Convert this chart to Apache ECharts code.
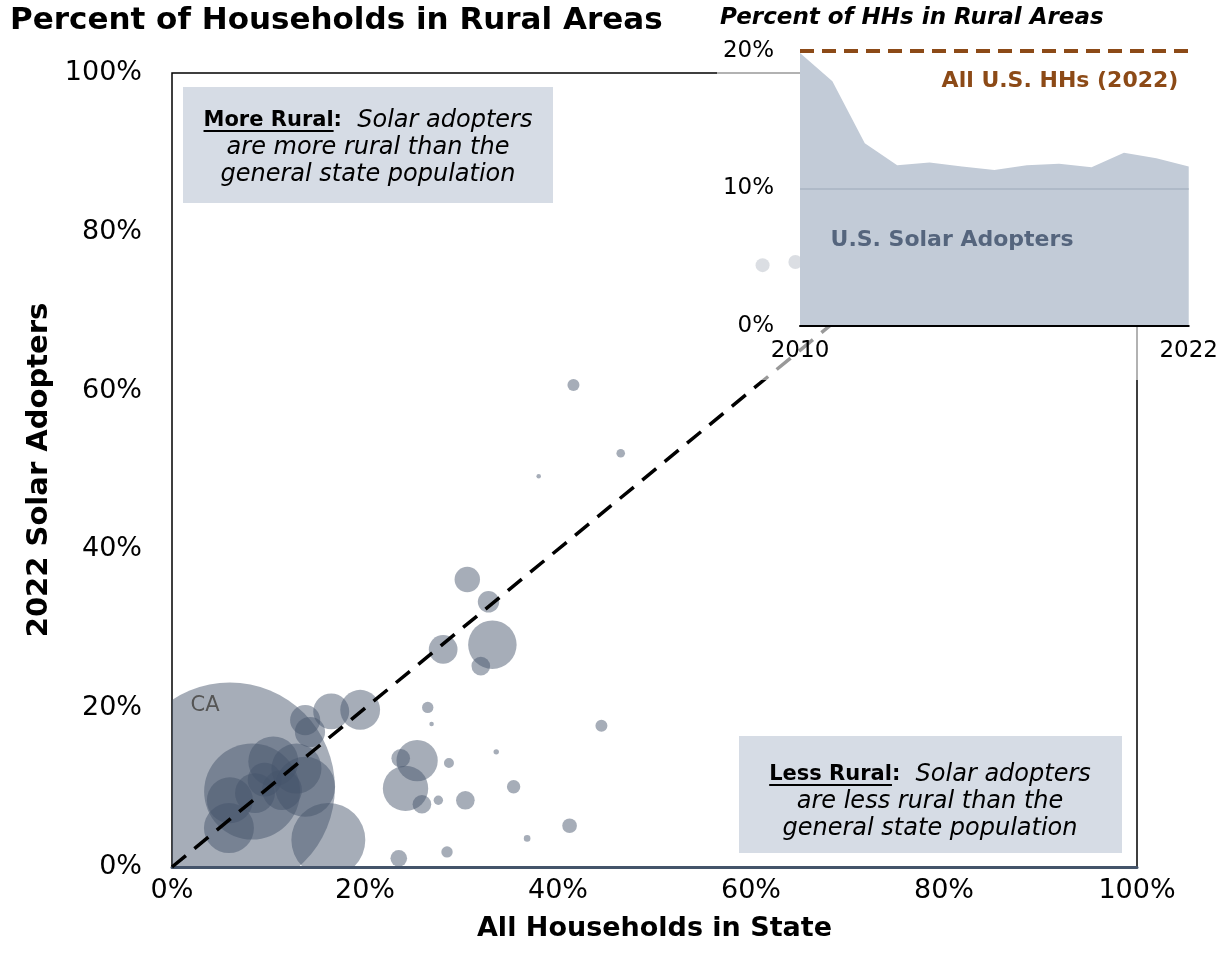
<!DOCTYPE html>
<html>
<head>
<meta charset="utf-8">
<title>Percent of Households in Rural Areas</title>
<script src="https://cdn.jsdelivr.net/npm/echarts@6/dist/echarts.min.js"></script>
<style>
  html, body { margin: 0; padding: 0; background: #fff; }
  #chart { width: 1221px; height: 968px; }
</style>
</head>
<body>
<div id="chart"></div>
<script>
// one bubble per state: % rural among all households (x), among 2022 solar adopters (y)
// solarHH = solar adopter households (thousands), drives bubble area
var ruralAll   = [6.0, 5.9, 6.0, 8.3, 8.6, 9.6, 10.5, 11.4, 12.9, 13.8, 16.2, 13.8, 14.3, 16.5, 19.5,
                  30.6, 32.8, 28.1, 33.2, 32.0, 26.5, 26.9, 44.5, 25.4, 23.7, 28.7, 33.6, 24.2, 25.9,
                  27.6, 30.4, 35.4, 41.2, 36.8, 28.5, 23.5, 41.6, 46.5, 38.0, 61.2, 64.6];
var ruralSolar = [10.0, 4.9, 8.4, 9.5, 9.3, 11.0, 13.3, 9.7, 12.4, 10.1, 3.4, 18.5, 17.0, 19.6, 19.8,
                  36.2, 33.4, 27.4, 28.0, 25.3, 20.1, 18.0, 17.8, 13.4, 13.7, 13.1, 14.5, 9.9, 7.9,
                  8.4, 8.4, 10.1, 5.2, 3.6, 1.9, 1.1, 60.7, 52.1, 49.2, 75.8, 76.2];
var solarHH    = [1500, 85, 72, 313, 54, 39, 85, 54, 85, 122, 186, 31, 31, 44, 54,
                  22, 15.6, 28, 80, 11.8, 4.4, 0.7, 4.9, 58, 11.8, 3.4, 1.0, 70, 11.8,
                  3.0, 11.8, 6.1, 7.3, 1.5, 4.4, 9.4, 4.9, 2.5, 0.7, 6.7, 6.7];
var labelledState = 'CA';   // first entry

// inset: % of U.S. solar adopters in rural areas by install year
var insetYears = ['2010', '2011', '2012', '2013', '2014', '2015', '2016', '2017', '2018', '2019', '2020', '2021', '2022'];
var insetRural = [19.85, 17.8, 13.3, 11.7, 11.9, 11.6, 11.35, 11.7, 11.8, 11.55, 12.6, 12.2, 11.6];
var allUsRural = 20;   // all U.S. households, 2022

var FONT = '"DejaVu Sans"';
var slate = '#44546a';
var brown = '#8c4a17';

var chart = echarts.init(document.getElementById('chart'));

var bubbleData = ruralAll.map(function (x, i) { return [x, ruralSolar[i], solarHH[i]]; });
var maxHH = Math.max.apply(null, solarHH);
var maxRadius = 105;

// measure text so the underlines sit under the bold words
var ctx = document.createElement('canvas').getContext('2d');
function textWidth(str, font) { ctx.font = font; return ctx.measureText(str).width; }

var boldFont = 'bold 21px "DejaVu Sans"';
var italFont = 'italic 24px "DejaVu Sans"';

function noteBox(cx, cy, rect, head, first, rest) {
  var wHead = textWidth(head, boldFont);
  var wColon = textWidth(':', boldFont);
  var wFirst = textWidth('  ' + first, italFont);
  var startX = cx - (wHead + wColon + wFirst) / 2;
  var lineY = cy - 27 + 10;
  return [
    { type: 'rect', z: 5, silent: true, shape: rect, style: { fill: '#d6dce5' } },
    { type: 'text', z: 6, silent: true, x: cx, y: cy,
      style: {
        text: '{b|' + head + '}{b|:}{i|  ' + first + '}\n{i|' + rest[0] + '}\n{i|' + rest[1] + '}',
        align: 'center', verticalAlign: 'middle', textAlign: 'center', textVerticalAlign: 'middle',
        rich: {
          b: { fontFamily: FONT, fontWeight: 'bold', fontSize: 21, lineHeight: 27, fill: '#000', color: '#000' },
          i: { fontFamily: FONT, fontStyle: 'italic', fontSize: 24, lineHeight: 27, fill: '#000', color: '#000' }
        }
      } },
    { type: 'line', z: 6, silent: true,
      shape: { x1: startX, y1: lineY, x2: startX + wHead, y2: lineY },
      style: { stroke: '#000', lineWidth: 2 } }
  ];
}

var graphics = [
  // white veil behind the inset, lets the main plot show through faintly
  { type: 'rect', z: 50, silent: true, shape: { x: 717, y: 0, width: 504, height: 380 },
    style: { fill: 'rgba(255,255,255,0.6)' } },
  { type: 'text', z: 70, silent: true, x: 720, y: 18,
    style: { text: 'Percent of HHs in Rural Areas', fontFamily: FONT, fontWeight: 'bold', fontStyle: 'italic',
             fontSize: 23, fill: '#000', verticalAlign: 'middle', textVerticalAlign: 'middle' } },
  { type: 'text', z: 70, silent: true, x: 1060, y: 81,
    style: { text: 'All U.S. HHs (2022)', fontFamily: FONT, fontWeight: 'bold', fontSize: 22, fill: brown,
             align: 'center', verticalAlign: 'middle', textAlign: 'center', textVerticalAlign: 'middle' } },
  { type: 'text', z: 70, silent: true, x: 952, y: 240,
    style: { text: 'U.S. Solar Adopters', fontFamily: FONT, fontWeight: 'bold', fontSize: 22, fill: '#55657d',
             align: 'center', verticalAlign: 'middle', textAlign: 'center', textVerticalAlign: 'middle' } },
  { type: 'text', z: 6, silent: true, x: 205, y: 706,
    style: { text: labelledState, fontFamily: FONT, fontSize: 21, fill: '#555',
             align: 'center', verticalAlign: 'middle', textAlign: 'center', textVerticalAlign: 'middle' } }
];
graphics = graphics.concat(
  noteBox(368, 148, { x: 183, y: 87, width: 370, height: 116 }, 'More Rural', 'Solar adopters',
          ['are more rural than the', 'general state population']),
  noteBox(930, 802, { x: 739, y: 736, width: 383, height: 117 }, 'Less Rural', 'Solar adopters',
          ['are less rural than the', 'general state population'])
);

var option = {
  backgroundColor: '#fff',
  animation: false,
  title: {
    text: 'Percent of Households in Rural Areas',
    left: 10, top: 5, padding: 0,
    textStyle: { fontFamily: FONT, fontWeight: 'bold', fontSize: 31, color: '#000' }
  },
  grid: [
    { left: 172, top: 73, width: 965, height: 794, show: true, borderColor: '#000', borderWidth: 1.5,
      backgroundColor: 'transparent' },
    { left: 800, top: 51, width: 392, height: 275, z: 55, show: true, borderWidth: 0,
      backgroundColor: '#fff' }
  ],
  xAxis: [
    {
      gridIndex: 0, type: 'value', min: 0, max: 100, interval: 20,
      name: 'All Households in State', nameLocation: 'middle', nameGap: 48,
      nameTextStyle: { fontFamily: FONT, fontWeight: 'bold', fontSize: 27, color: '#000' },
      axisLine: { show: true, onZero: false, lineStyle: { color: slate, width: 3 } },
      axisTick: { show: false },
      splitLine: { show: false },
      axisLabel: { formatter: '{value}%', fontFamily: FONT, fontSize: 27, color: '#000', margin: 10 }
    },
    {
      gridIndex: 1, type: 'category', data: insetYears, boundaryGap: false, z: 60,
      axisLine: { lineStyle: { color: '#000', width: 2 } },
      axisTick: { show: false },
      splitLine: { show: false },
      axisLabel: {
        interval: function (i) { return i === 0 || i === insetYears.length - 1; },
        fontFamily: FONT, fontSize: 23, color: '#000', margin: 14
      }
    }
  ],
  yAxis: [
    {
      gridIndex: 0, type: 'value', min: 0, max: 100, interval: 20,
      name: '2022 Solar Adopters', nameLocation: 'middle', nameGap: 106,
      nameTextStyle: { fontFamily: FONT, fontWeight: 'bold', fontSize: 29, color: '#000' },
      axisLine: { show: false },
      axisTick: { show: false },
      splitLine: { show: false },
      axisLabel: { formatter: '{value}%', fontFamily: FONT, fontSize: 27, color: '#000', margin: 30 }
    },
    {
      gridIndex: 1, type: 'value', min: 0, max: 20, interval: 10, z: 60,
      axisLine: { show: false },
      axisTick: { show: false },
      splitLine: { show: false },
      axisLabel: { formatter: '{value}%', fontFamily: FONT, fontSize: 23, color: '#000', margin: 26 }
    }
  ],
  series: [
    {
      // bubbles, clipped to the plot area (CA spills past the axes)
      type: 'custom', xAxisIndex: 0, yAxisIndex: 0, z: 2, clip: true, silent: true,
      data: bubbleData,
      encode: { x: 0, y: 1 },
      renderItem: function (params, api) {
        var p = api.coord([api.value(0), api.value(1)]);
        var r = maxRadius * Math.sqrt(api.value(2) / maxHH);
        return {
          type: 'circle',
          shape: { cx: p[0], cy: p[1], r: r },
          style: { fill: 'rgba(68,84,106,0.48)' }
        };
      }
    },
    {
      // parity line
      type: 'line', xAxisIndex: 0, yAxisIndex: 0, z: 4, symbol: 'none', silent: true,
      data: [[0, 0], [100, 100]],
      lineStyle: { color: '#000', width: 3.5, type: [18, 11] }
    },
    {
      type: 'line', xAxisIndex: 1, yAxisIndex: 1, z: 60, symbol: 'none', silent: true,
      data: insetRural,
      lineStyle: { color: '#c2cbd7', width: 0 },
      areaStyle: { color: '#c2cbd7', opacity: 1 },
      markLine: {
        silent: true, symbol: 'none', z: 61, animation: false,
        label: { show: false },
        data: [
          { yAxis: 10, lineStyle: { color: '#a9b4c3', width: 1.5, type: 'solid' } },
          { yAxis: allUsRural, lineStyle: { color: brown, width: 4, type: [14, 8] } }
        ]
      }
    }
  ],
  graphic: { elements: graphics }
};

chart.setOption(option);
</script>
</body>
</html>
